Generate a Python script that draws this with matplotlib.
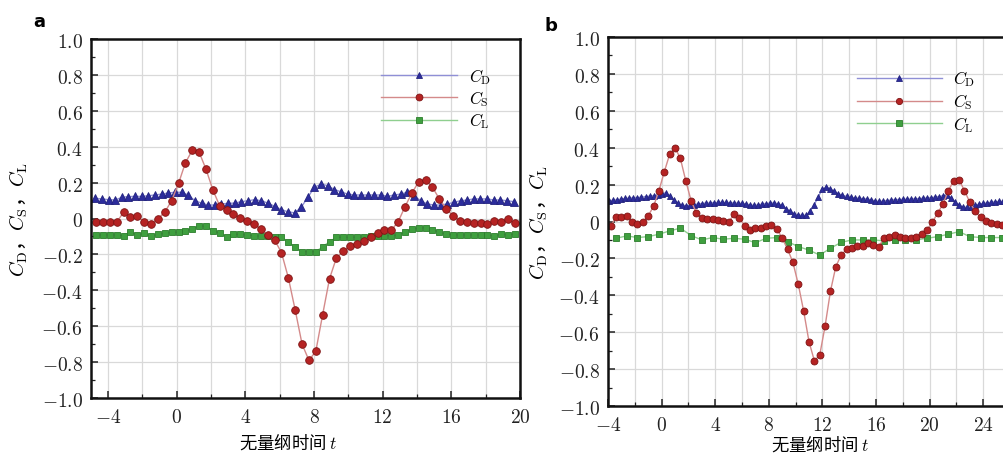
import numpy as np
import matplotlib
matplotlib.use("Agg")
import matplotlib.pyplot as plt
from matplotlib.ticker import MultipleLocator, FixedLocator, FuncFormatter

plt.rcParams['mathtext.fontset'] = 'cm'
plt.rcParams['font.family'] = ['Noto Sans CJK SC', 'DejaVu Sans']

# ---- panel a : values ----
# C_D (triangles), sampled a bit denser than the other two
CD_A = [0.112, 0.109, 0.105, 0.103, 0.118, 0.122, 0.123, 0.123, 0.127, 0.131,
        0.136, 0.142, 0.146, 0.146, 0.131, 0.099, 0.086, 0.075, 0.075, 0.081,
        0.084, 0.086, 0.094, 0.099, 0.105, 0.099, 0.086, 0.068, 0.049, 0.038,
        0.031,
        0.062, 0.118, 0.174, 0.192, 0.183, 0.161, 0.149, 0.136, 0.131, 0.131,
        0.131, 0.131, 0.131, 0.123, 0.131, 0.136, 0.146, 0.127, 0.099, 0.081,
        0.075, 0.075, 0.081, 0.090, 0.099, 0.103, 0.109, 0.109, 0.109, 0.103,
        0.103, 0.099, 0.094]
CS_A = [-0.02, -0.02, -0.02, -0.02, 0.035, 0.01, 0.015, -0.02, -0.03, 0.0,
        0.035, 0.10, 0.195, 0.31, 0.38, 0.37, 0.275, 0.16, 0.07, 0.05,
        0.027, 0.003, -0.012, -0.03, -0.06, -0.09, -0.12, -0.19, -0.33, -0.51,
        -0.70, -0.79, -0.74, -0.535, -0.335, -0.22, -0.18, -0.155, -0.14, -0.123,
        -0.105, -0.083, -0.065, -0.065, -0.018, 0.066, 0.142, 0.205, 0.214, 0.174,
        0.109, 0.053, 0.016, -0.012, -0.018, -0.025, -0.025, -0.029, -0.012, -0.021,
        -0.003, -0.025]
CL_A = [-0.092, -0.092, -0.092, -0.092, -0.096, -0.074, -0.092, -0.083, -0.099, -0.088,
        -0.083, -0.077, -0.077, -0.068, -0.058, -0.040, -0.044, -0.068, -0.081, -0.101,
        -0.088, -0.088, -0.092, -0.096, -0.099, -0.099, -0.105, -0.105, -0.129, -0.161,
        -0.185, -0.185, -0.185, -0.157, -0.129, -0.105, -0.105, -0.105, -0.105, -0.105,
        -0.099, -0.096, -0.096, -0.096, -0.092, -0.074, -0.058, -0.055, -0.051, -0.062,
        -0.077, -0.086, -0.092, -0.092, -0.092, -0.092, -0.092, -0.092, -0.099, -0.086,
        -0.092, -0.086]

# ---- panel b ----
CD_B = [0.113, 0.115, 0.118, 0.122, 0.125, 0.127, 0.128, 0.130, 0.132, 0.135,
        0.137, 0.140, 0.145, 0.150, 0.155, 0.140, 0.118, 0.100, 0.088, 0.086,
        0.087, 0.090, 0.095, 0.097, 0.100, 0.100, 0.102, 0.103, 0.104, 0.103,
        0.102, 0.100, 0.100, 0.098, 0.095, 0.090, 0.087, 0.090, 0.094, 0.097,
        0.100, 0.100, 0.096, 0.088, 0.070, 0.055, 0.042, 0.035, 0.033, 0.034,
        0.058, 0.092, 0.135, 0.175, 0.186, 0.178, 0.163, 0.150, 0.142, 0.136,
        0.132, 0.128, 0.126, 0.124, 0.122, 0.118, 0.112, 0.109, 0.110, 0.113,
        0.116, 0.118, 0.119, 0.120, 0.121, 0.122, 0.123, 0.124, 0.126, 0.127,
        0.129, 0.132, 0.135, 0.140, 0.145, 0.128, 0.105, 0.090, 0.078, 0.077,
        0.080, 0.088, 0.094, 0.098, 0.101, 0.104, 0.107, 0.109, 0.110, 0.110]
CS_B = [-0.027, 0.027, 0.027, 0.031, 0.0, -0.013, -0.004, 0.031, 0.082, 0.167,
        0.269, 0.364, 0.40, 0.342, 0.222, 0.113, 0.045, 0.018, 0.015, 0.015,
        0.009, 0.004, -0.005, 0.04, 0.018, -0.022, -0.045, -0.036, -0.033, -0.022,
        -0.018, -0.04, -0.091, -0.149, -0.222, -0.34, -0.485, -0.651, -0.755, -0.724,
        -0.567, -0.378, -0.245, -0.182, -0.151, -0.142, -0.131, -0.131, -0.118, -0.127,
        -0.136, -0.091, -0.082, -0.073, -0.082, -0.091, -0.091, -0.082, -0.069, -0.045,
        -0.004, 0.045, 0.095, 0.167, 0.222, 0.227, 0.167, 0.105, 0.055, 0.022,
        0.004, -0.009, -0.015, -0.018, -0.02]
CL_B = [-0.091, -0.078, -0.087, -0.082, -0.069, -0.051, -0.036, -0.076, -0.1, -0.087,
        -0.096, -0.091, -0.096, -0.115, -0.091, -0.087, -0.109, -0.136, -0.155, -0.182,
        -0.145, -0.113, -0.1, -0.1, -0.1, -0.105, -0.1, -0.1, -0.1, -0.091,
        -0.082, -0.069, -0.055, -0.082, -0.087, -0.087, -0.087]

# sample times (start, step) of each series
T_A_D = np.round(-4.75 + 0.387 * np.arange(len(CD_A)), 3)
T_A = np.round(-4.7 + 0.4 * np.arange(len(CS_A)), 2)
T_B_D = np.round(-3.9 + 0.3 * np.arange(len(CD_B)), 2)
T_B_S = np.round(-3.8 + 0.4 * np.arange(len(CS_B)), 2)
T_B_L = np.round(-3.4 + 0.8 * np.arange(len(CL_B)), 2)

XT_A = [-4, 0, 4, 8, 12, 16, 20]
XT_B = [-4, 0, 4, 8, 12, 16, 20, 24]

LABELS = [r'$C_{\rm D}$', r'$C_{\rm S}$', r'$C_{\rm L}$']
YLAB = r'$C_{\rm D}$，$C_{\rm S}$，$C_{\rm L}$'
XLAB = r'无量纲时间 $t$'

# styles: (line colour, marker face, marker edge, marker)
STY_D = ('#8f8fd6', '#2c2c9c', '#23237e', '^')
STY_S = ('#d48a8a', '#b52323', '#7e1414', 'o')
STY_L = ('#8fcf8f', '#3f9f3f', '#2c7d2c', 's')

W, H = 1004, 456
fig = plt.figure(figsize=(W / 100, H / 100), dpi=100)


def px_axes(left, top, right, bottom):
    return fig.add_axes([left / W, 1 - bottom / H, (right - left) / W, (bottom - top) / H])


def draw(ax, series, xlim, xticks):
    handles = [None] * 3
    for idx in (2, 0, 1):
        t, v, sty, ms = series[idx]
        lc, mf, me, mk = sty
        h, = ax.plot(t, v, '-', color=lc, lw=1.0, marker=mk, ms=ms,
                     mfc=mf, mec=me, mew=0.6, label=LABELS[idx])
        handles[idx] = h
    ax.set_xlim(*xlim)
    ax.set_ylim(-1.0, 1.0)
    ax.xaxis.set_major_locator(FixedLocator(xticks))
    ax.xaxis.set_minor_locator(MultipleLocator(2))
    ax.yaxis.set_major_locator(MultipleLocator(0.2))
    ax.yaxis.set_minor_locator(MultipleLocator(0.1))
    ax.xaxis.set_major_formatter(FuncFormatter(lambda v, p: r'$%d$' % round(v)))
    ax.yaxis.set_major_formatter(FuncFormatter(
        lambda v, p: r'$0$' if abs(v) < 1e-9 else r'$%.1f$' % v))
    ax.grid(True, which='major', color='#d9d9d9', lw=0.9)
    ax.xaxis.grid(True, which='minor', color='#d9d9d9', lw=0.9)
    ax.set_axisbelow(True)
    ax.tick_params(which='both', direction='in', labelsize=14, colors='#222222')
    ax.tick_params(which='major', length=5, width=1.1, pad=6)
    ax.tick_params(which='minor', length=3, width=0.9)
    for s in ax.spines.values():
        s.set_linewidth(1.8)
        s.set_color('#111111')
    ax.set_ylabel(YLAB, fontsize=14.5)
    ax.set_xlabel(XLAB, fontsize=12.5)
    return handles


ax_a = px_axes(91, 40, 520, 399)
ha = draw(ax_a, [(T_A_D, CD_A, STY_D, 5.5), (T_A, CS_A, STY_S, 5.5), (T_A, CL_A, STY_L, 5.0)],
          (-5, 20), XT_A)
ax_a.xaxis.set_label_coords(0.46, -0.093)
ax_a.yaxis.set_label_coords(-0.142, 0.5)
ax_a.legend(handles=ha, loc='upper left', bbox_to_anchor=(0.64, 0.967), frameon=False,
            handlelength=4.6, handletextpad=0.7, labelspacing=0.15, fontsize=12,
            markerscale=0.9)

ax_b = px_axes(608, 38, 608 + 32 * 13.4, 407)
hb = draw(ax_b, [(T_B_D, CD_B, STY_D, 4.5), (T_B_S, CS_B, STY_S, 5.0), (T_B_L, CL_B, STY_L, 5.0)],
          (-4, 28), XT_B)
ax_b.xaxis.set_label_coords(0.494, -0.074)
ax_b.yaxis.set_label_coords(-0.135, 0.5)
ax_b.legend(handles=hb, loc='upper left', bbox_to_anchor=(0.545, 0.955), frameon=False,
            handlelength=5.1, handletextpad=0.7, labelspacing=0.18, fontsize=12,
            markerscale=0.9)

fig.text(33 / W, 1 - 27 / H, 'a', fontsize=13, fontweight='bold', family='DejaVu Sans')
fig.text(545 / W, 1 - 31 / H, 'b', fontsize=13, fontweight='bold', family='DejaVu Sans')

fig.savefig('out.png', dpi=100)
